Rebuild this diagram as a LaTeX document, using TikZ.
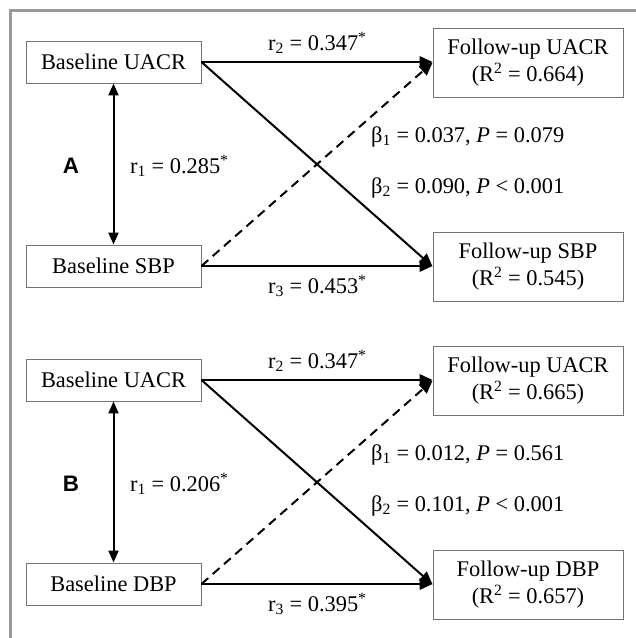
\documentclass[tikz,border=0pt]{standalone}
\usepackage{fontspec}
\setmainfont{Liberation Serif}
\newfontfamily\lsans{Liberation Sans}
\usetikzlibrary{arrows.meta}
\tikzset{
  box/.style={draw=black!55, line width=0.9pt, minimum width=175pt, minimum height=42pt, inner sep=0pt},
  fbox/.style={draw=black!55, line width=0.9pt, minimum width=190pt, minimum height=69pt, inner sep=0pt, align=center},
  arr/.style={line width=2pt, -{Triangle[length=13pt,width=11.5pt]}},
  darr/.style={line width=2pt, {Triangle[length=12pt,width=10pt]}-{Triangle[length=12pt,width=10pt]}},
  dsh/.style={dash pattern=on 9pt off 6pt},
  lbl/.style={inner sep=0pt, anchor=base west},
  frame/.style={draw=black!40, line width=3pt},
}
\newcommand\panel[9]{%
  \node[box] (#1bu) at (113.5,62) {Baseline UACR};
  \node[box] (#1bs) at (113.5,266) {Baseline #3};
  \node[fbox] (#1fu) at (528,62.5) {Follow-up UACR\\(R\textsuperscript{2} = #4)};
  \node[fbox] (#1fs) at (528,266.5) {Follow-up #3\\(R\textsuperscript{2} = #5)};
  \draw[arr] (#1bu.east) -- (#1bu.east -| #1fu.west);
  \draw[arr] (#1bu.east) -- (#1fs.west);
  \draw[arr] (#1bs.east) -- (#1bs.east -| #1fs.west);
  \draw[arr,dsh] (#1bs.east) -- (#1fu.west);
  \draw[darr] (#1bu.south) -- (#1bs.north);
  \node[lbl] (#1r2) at (268,50) {r\textsubscript{2} = 0.347\textsuperscript{*}};
  \node[lbl] (#1r3) at (268,293) {r\textsubscript{3} = #9\textsuperscript{*}};
  \node[lbl] (#1r1) at (130,173) {r\textsubscript{1} = #2\textsuperscript{*}};
  \node[inner sep=0pt, anchor=base] (#1lab) at (71,173) {\lsans\bfseries #1};
  \node[lbl] (#1b1) at (371,142) {β\textsubscript{1} = #6, \textit{P} = #7};
  \node[lbl] (#1b2) at (371,193) {β\textsubscript{2} = #8, \textit{P} < 0.001};
}
\begin{document}
\begin{tikzpicture}[x=1pt,y=-1pt]
\useasboundingbox (0,0) rectangle (636,638);
\fill[white] (0,0) rectangle (636,638);
\fontsize{22.4}{27}\selectfont
\draw[frame] (10,640) -- (10,10) -- (640,10);
\panel{A}{0.285}{SBP}{0.664}{0.545}{0.037}{0.079}{0.090}{0.453}
\begin{scope}[shift={(0,318)}]
\panel{B}{0.206}{DBP}{0.665}{0.657}{0.012}{0.561}{0.101}{0.395}
\end{scope}
\end{tikzpicture}
\end{document}
